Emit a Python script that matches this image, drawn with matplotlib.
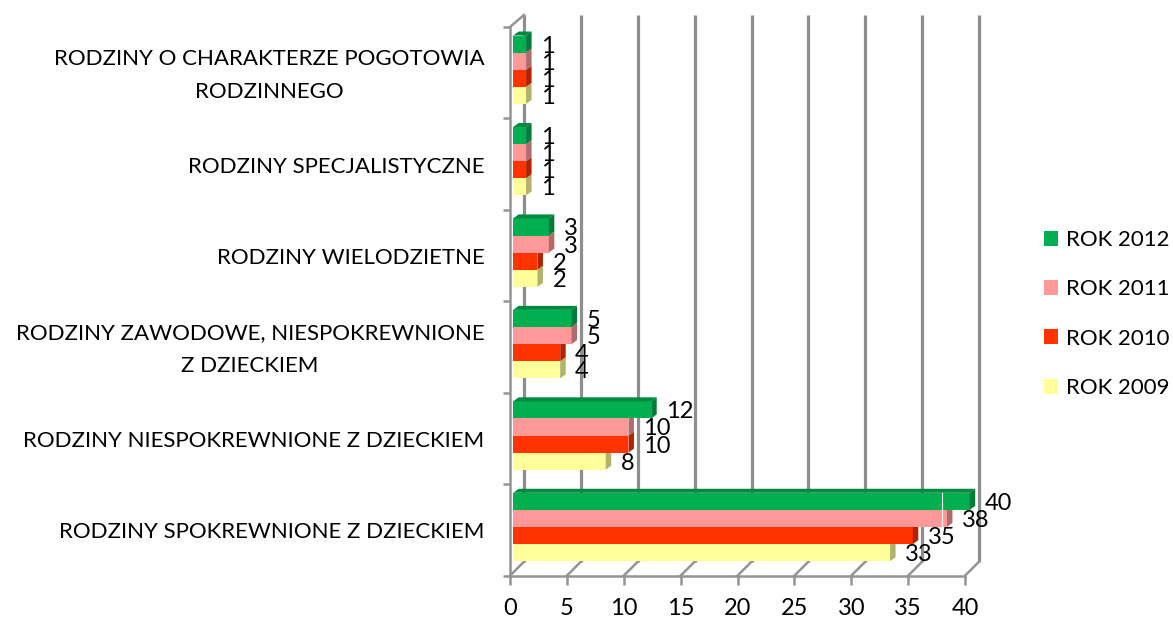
import matplotlib.pyplot as plt
from matplotlib.patches import Patch
from matplotlib.transforms import ScaledTranslation

plt.rcParams['font.family'] = ['Lato', 'DejaVu Sans']

# Dane z wykresu (od dolu do gory)
kategorie = ['RODZINY SPOKREWNIONE Z DZIECKIEM',
             'RODZINY NIESPOKREWNIONE Z DZIECKIEM',
             'RODZINY ZAWODOWE, NIESPOKREWNIONE\nZ DZIECKIEM',
             'RODZINY WIELODZIETNE',
             'RODZINY SPECJALISTYCZNE',
             'RODZINY O CHARAKTERZE POGOTOWIA\nRODZINNEGO']
rok_2009 = [33, 8, 4, 2, 1, 1]
rok_2010 = [35, 10, 4, 2, 1, 1]
rok_2011 = [38, 10, 5, 3, 1, 1]
rok_2012 = [40, 12, 5, 3, 1, 1]
serie = [rok_2009, rok_2010, rok_2011, rok_2012]
nazwy = ['ROK 2009', 'ROK 2010', 'ROK 2011', 'ROK 2012']
kolory = ['#FFFF99', '#FF3300', '#FF9999', '#00B050']
boki = ['#B2B26B', '#B22400', '#B26B6B', '#007B38']
gora_kolor = '#00893F'
x_ticks = [0, 5, 10, 15, 20, 25, 30, 35, 40]

W, H = 1173, 619
fig = plt.figure(figsize=(W / 100, H / 100), dpi=100)
ax = fig.add_axes([510 / W, (H - 575.7) / H, 455 / W, 548.7 / H])
ax.set_xlim(0, 40)
ax.set_ylim(-0.5, 5.5)

# przeliczenie pikseli na jednostki osi
px = 40 / 455
py = 6 / 548.7
szary = '#949494'

# tylna sciana i podloga
for x in x_ticks:
    ax.plot([x + 14 * px] * 2, [-0.5 + 14 * py, 5.5 + 12 * py], color='#8E8E8E', lw=2.3,
            clip_on=False, zorder=1, solid_capstyle='butt')
    ax.plot([x, x + 14 * px], [-0.5, -0.5 + 14 * py], color=szary, lw=1.8, clip_on=False, zorder=1)
ax.plot([0, 14 * px], [5.5, 5.5 + 12 * py], color=szary, lw=1.8, clip_on=False, zorder=1)

# slupki 3D
h = 17.1 * py
x0 = 3.2 * px
dx = 5.5 * px
dy = 4 * py
for j, wartosci in enumerate(serie):
    for i, v in enumerate(wartosci):
        yc = i + (j - 1.5) * h + 3 * py
        dol, gora = yc - h / 2, yc + h / 2
        koniec = x0 + v + 1.5 * px
        ax.barh(yc, v + 1.5 * px, left=x0, height=h, color=kolory[j], linewidth=0, zorder=3 + j * 0.1, clip_on=False)
        ax.fill([koniec, koniec + dx, koniec + dx, koniec],
                [dol, dol + dy, gora + dy, gora], color=boki[j], lw=0, zorder=3 + j * 0.1, clip_on=False)
        if j == 3:
            ax.fill([x0, x0 + dx, koniec + dx, koniec],
                    [gora, gora + dy, gora + dy, gora], color=gora_kolor, lw=0, zorder=3.5, clip_on=False)
        ax.text(koniec + dx + 9.5 * px, yc - 2 * py, str(v), ha='left', va='center',
                fontsize=17, color='black', zorder=6)

# cienka jasna linia widoczna na oryginale
ax.plot([(942 - 510) * px] * 2, [0.04, 0.4], color='#F2F2F2', lw=0.8, zorder=4)

# osie
for s in ['top', 'right']:
    ax.spines[s].set_visible(False)
for s in ['left', 'bottom']:
    ax.spines[s].set_color(szary)
    ax.spines[s].set_linewidth(1.8)
ax.set_xticks(x_ticks)
ax.set_yticks([i - 0.5 for i in range(7)])
ax.set_yticklabels([])
ax.set_yticks(range(6), minor=True)
ax.set_yticklabels(kategorie, minor=True, fontsize=16, ha='right', va='center', multialignment='center', linespacing=1.8)
ax.tick_params(axis='x', length=6.5, width=1.8, color=szary, labelsize=17, pad=9.5)
ax.tick_params(axis='y', which='major', length=5, width=1.8, color=szary)
ax.tick_params(axis='y', which='minor', length=0, pad=18.5)

# etykiety kategorii nieco nizej
przesuniecie = ScaledTranslation(0, -2.5 / 100, fig.dpi_scale_trans)
for etykieta in ax.get_yticklabels(minor=True):
    etykieta.set_transform(etykieta.get_transform() + przesuniecie)

# legenda
uchwyty = [Patch(color=kolory[j], lw=0) for j in range(3, -1, -1)]
fig.legend(uchwyty, nazwy[::-1], loc='center left', bbox_to_anchor=(1044 / W, (H - 314) / H),
           frameon=False, fontsize=16, handlelength=0.65, handleheight=0.65, handletextpad=0.32,
           labelspacing=1.32, borderpad=0, borderaxespad=0)

fig.savefig('out.png', dpi=100)
